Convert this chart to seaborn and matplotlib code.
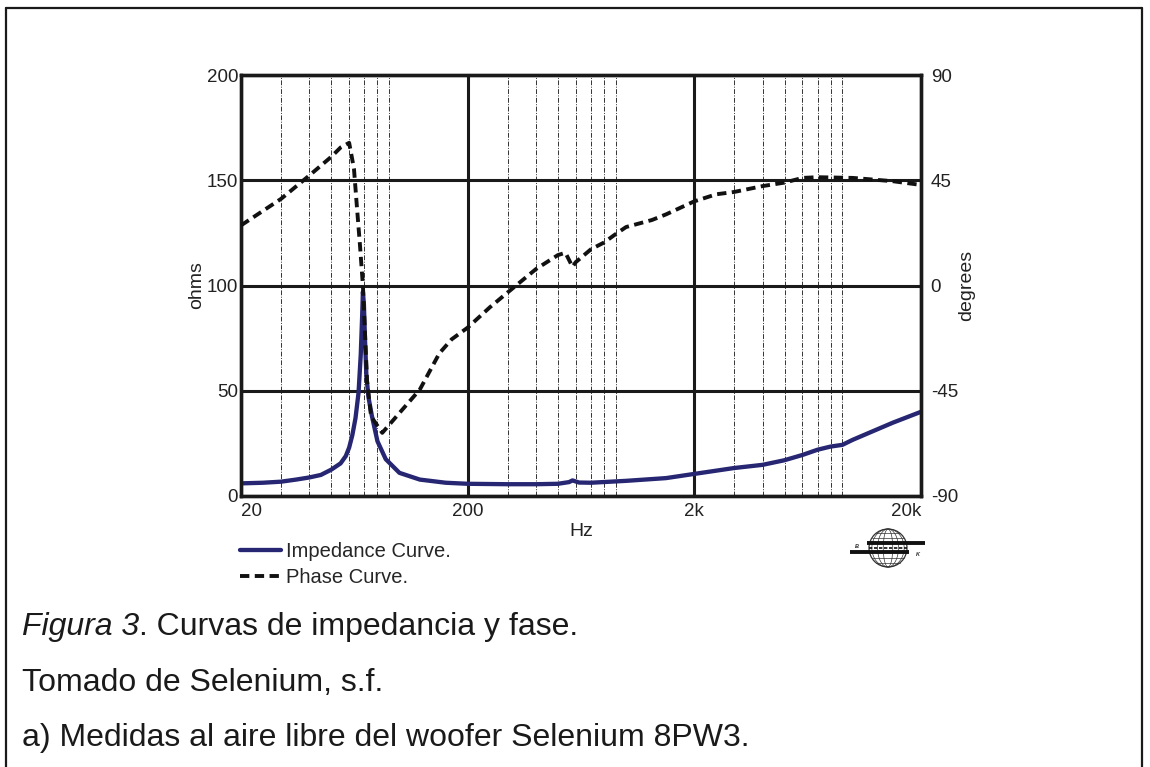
import numpy as np
import seaborn as sns
import matplotlib
matplotlib.use('Agg')
import matplotlib.pyplot as plt
from matplotlib.lines import Line2D
from matplotlib.patches import Circle, Ellipse

# impedance curve (ohms)
imp_freq = [20, 25, 30, 35, 40, 45, 50, 55, 58, 60, 62, 64, 66, 67.5, 68.5, 69, 69.7, 70.5, 71.5, 73,
            75.6, 80, 87, 100, 123, 160, 200, 300, 400, 500, 560, 580, 620, 700, 1000, 1500, 2000,
            3000, 4000, 5000, 6000, 7000, 8000, 9000, 10000, 15000, 20000]
imp_ohms = [6.0, 6.3, 6.8, 7.8, 8.8, 10, 12.5, 15.5, 19, 23, 29, 37, 49, 67, 86, 97, 91, 74, 57, 47,
            38, 26, 17.5, 11, 7.8, 6.3, 5.8, 5.6, 5.6, 5.8, 6.6, 7.4, 6.4, 6.3, 7.2, 8.5, 10.5,
            13.3, 14.8, 17, 19.5, 22, 23.5, 24.3, 26.7, 34.8, 40]

# phase curve (degrees)
ph_freq = [20, 30, 40, 50, 55, 60, 63, 65, 67, 69, 72, 75, 84, 100, 123, 150, 170, 200, 250, 300, 400, 500,
           540, 580, 600, 700, 800, 900, 1000, 1300, 1500, 2000, 2500, 3000, 4000, 5000, 6000, 7000,
           10000, 15000, 20000]
ph_deg = [25.7, 37, 47, 55, 59, 61, 50, 33, 17, 0, -41, -56, -63, -54.5, -44.5, -29, -23, -18, -9.4, -3, 7, 13,
          14, 8, 10, 15.5, 18.4, 22, 25, 28, 30.4, 36, 39, 40, 42.5, 44, 46, 46.3, 46, 44.6, 43]

x_major = [20, 200, 2000, 20000]
x_major_labels = ['20', '200', '2k', '20k']
x_minor = [30, 40, 50, 60, 70, 80, 90, 300, 400, 500, 600, 700, 800, 900,
           3000, 4000, 5000, 6000, 7000, 8000, 9000]
ohm_ticks = [0, 50, 100, 150, 200]
deg_ticks = [-90, -45, 0, 45, 90]

caption_lines = ['Tomado de Selenium, s.f.', 'a) Medidas al aire libre del woofer Selenium 8PW3.']

sns.set_style('white')
plt.rcParams['font.family'] = ['Liberation Sans', 'DejaVu Sans']

W, H = 1150, 767
fig = plt.figure(figsize=(W / 100, H / 100), dpi=100)
ax = fig.add_axes([241 / W, 1 - 496 / H, 680 / W, 421 / H])
ax2 = ax.twinx()

sns.lineplot(x=imp_freq, y=imp_ohms, ax=ax, color='#262673', lw=3.1, label='Impedance Curve.', zorder=3)
sns.lineplot(x=ph_freq, y=ph_deg, ax=ax2, color='#111111', lw=2.8, linestyle=(0, (2.4, 1.4)),
             label='Phase Curve.', zorder=3)

ax.set_xscale('log')
ax.set_xlim(20, 20000)
ax.set_ylim(0, 200)
ax2.set_ylim(-90, 90)

ax.set_xticks(x_major)
ax.set_xticklabels(x_major_labels)
ax.set_xticks(x_minor, minor=True)
ax.set_xticklabels([], minor=True)
ax.set_yticks(ohm_ticks)
ax2.set_yticks(deg_ticks)
ax2.set_yticklabels([str(v) for v in deg_ticks])

ax.grid(which='major', color='#1a1a1a', lw=2.2)
ax.grid(which='minor', axis='x', color='#333333', lw=0.7, linestyle=(0, (5, 1.5, 1, 1.5)))
ax.set_axisbelow(True)
ax2.grid(False)

for a in (ax, ax2):
    for s in a.spines.values():
        s.set_color('#1a1a1a')
        s.set_linewidth(2.4)
    a.tick_params(which='both', length=0)
ax.tick_params(axis='y', labelsize=13.5, pad=2, colors='#222222')
ax.tick_params(axis='x', labelsize=13.5, pad=5, colors='#222222')
ax2.tick_params(axis='y', labelsize=13.5, pad=7, colors='#222222')

xl = ax.get_xticklabels()
xl[0].set_ha('left')
xl[-1].set_ha('right')

ax.set_xlabel('Hz', fontsize=14, labelpad=2, color='#222222')
ax.set_ylabel('ohms', fontsize=14, labelpad=1, color='#222222')
ax2.set_ylabel('degrees', fontsize=14, labelpad=0, color='#222222')

# legend below the plot
h1, l1 = ax.get_legend_handles_labels()
h2, l2 = ax2.get_legend_handles_labels()
ax.get_legend().remove()
ax2.get_legend().remove()
fig.legend(h1 + h2, l1 + l2, loc='upper left', bbox_to_anchor=(240 / W, 1 - 542 / H),
           frameon=False, fontsize=14.5, handlelength=2.05, handletextpad=0.25, labelspacing=0.35,
           borderpad=0, borderaxespad=0)

# small globe logo
lax = fig.add_axes([(888 - 45) / W, 1 - (548 + 25) / H, 90 / W, 50 / H])
lax.set_xlim(-45, 45)
lax.set_ylim(-25, 25)
lax.set_aspect('equal')
lax.axis('off')
lax.add_patch(Circle((0, 0), 19, fill=False, lw=0.9, color='#333333'))
for k in (0.25, 0.55, 0.85):
    lax.add_patch(Ellipse((0, 0), 38 * k, 38, fill=False, lw=0.5, color='#333333'))
for yy in (-15, -10, 10, 15):
    half = np.sqrt(19 ** 2 - yy ** 2)
    lax.plot([-half, half], [yy, yy], color='#333333', lw=0.5)
lax.plot([-21, 37], [5, 5], color='#111111', lw=2.8, solid_capstyle='butt')
lax.plot([-38, 21], [-4, -4], color='#111111', lw=2.8, solid_capstyle='butt')
lax.plot([-19, 19], [0.5, 0.5], color='#111111', lw=1.2, linestyle=(0, (2, 1)))
lax.text(-31, 1, 'B', fontsize=4, fontweight='bold', fontstyle='italic', ha='center', va='center')
lax.text(30, -7, 'K', fontsize=4, fontweight='bold', fontstyle='italic', ha='center', va='center')

# caption
t1 = fig.text(22 / W, 1 - 635 / H, 'Figura 3', fontsize=23, fontstyle='italic', color='#1a1a1a',
              va='baseline')
ax.annotate('. Curvas de impedancia y fase.', xy=(1, 0), xycoords=t1, fontsize=23, color='#1a1a1a',
            va='bottom', ha='left', annotation_clip=False)
fig.text(22 / W, 1 - 691 / H, caption_lines[0], fontsize=23, color='#1a1a1a', va='baseline')
fig.text(22 / W, 1 - 746 / H, caption_lines[1], fontsize=23, color='#1a1a1a', va='baseline')

# frame around the figure
for xs, ys in (([6, 6], [767, 8]), ([6, 1142], [8, 8]), ([1142, 1142], [8, 767])):
    fig.add_artist(Line2D([v / W for v in xs], [1 - v / H for v in ys], transform=fig.transFigure,
                          color='#1a1a1a', lw=1.6))

fig.savefig('out.png', dpi=100)
